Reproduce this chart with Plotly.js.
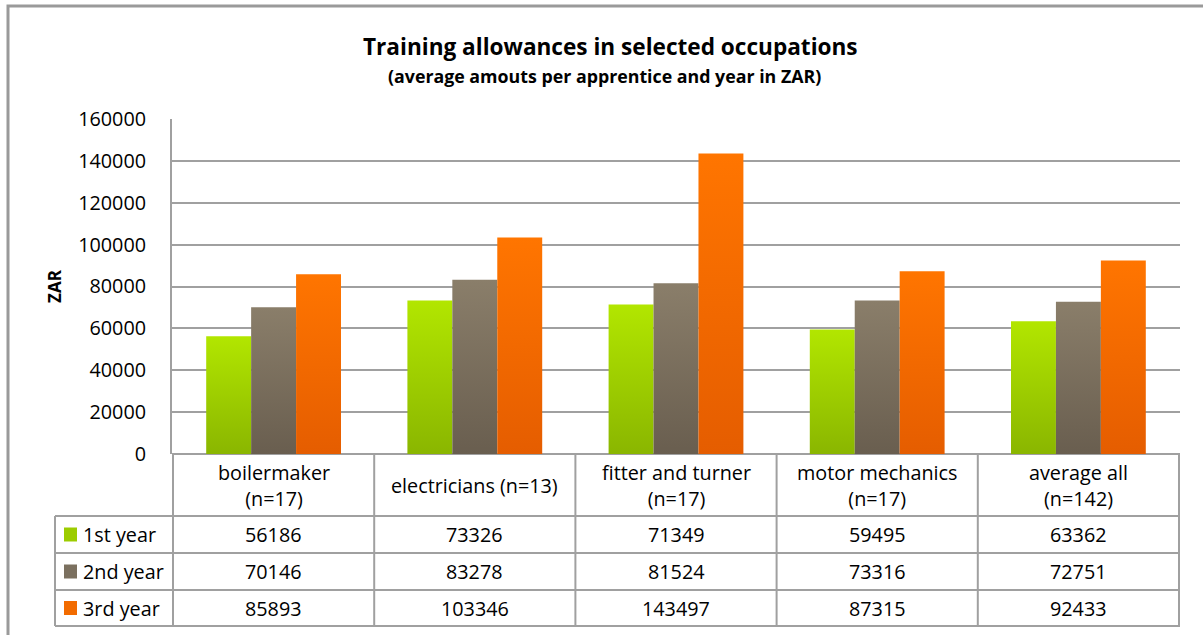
<!DOCTYPE html>
<html>
<head>
<meta charset="utf-8">
<script src="https://cdn.plot.ly/plotly-3.0.1.min.js"></script>
<style>
html,body{margin:0;padding:0;background:#fff;}
#chart{width:1203px;height:635px;}
</style>
</head>
<body>
<div id="chart"></div>
<script>
// ---- data ----
const categories = ['boilermaker<br>(n=17)', 'electricians (n=13)', 'fitter and turner<br>(n=17)', 'motor mechanics<br>(n=17)', 'average all<br>(n=142)'];
const seriesNames = ['1st year', '2nd year', '3rd year'];
const year1 = [56186, 73326, 71349, 59495, 63362];
const year2 = [70146, 83278, 81524, 73316, 72751];
const year3 = [85893, 103346, 143497, 87315, 92433];
const yTickVals = [0, 20000, 40000, 60000, 80000, 100000, 120000, 140000, 160000];

const seriesValues = [year1, year2, year3];
const colors = ['#9ccc00', '#7b705f', '#f26b00'];
const gradTop = ['#b2e600', '#8a7e6a', '#ff7500'];
const gradBottom = ['#8ab600', '#695e4f', '#e55d00'];

// ---- layout geometry (pixels) ----
const W = 1203, H = 635;
const plotL = 172, plotR = 1180, plotT = 119, plotB = 454;
const pw = plotR - plotL, ph = plotB - plotT;
const px = x => (x - plotL) / pw;      // pixel -> paper x
const py = y => (plotB - y) / ph;      // pixel -> paper y
const FONT = 'Open Sans, sans-serif';
const FS = 19.8;
const GRID = '#a0a0a0';

const traces = seriesValues.map((vals, k) => ({
  type: 'bar',
  name: seriesNames[k],
  x: categories,
  y: vals,
  marker: {color: colors[k], line: {width: 0}},
  hoverinfo: 'x+y+name'
}));

// table row boundaries (pixels)
const rowLines = [516, 553, 590, 626];
const headerMid = (plotB + rowLines[0]) / 2;

const shapes = [];
const annotations = [];

// outer chart border
shapes.push({type: 'rect', xref: 'paper', yref: 'paper', x0: px(8), x1: px(1215), y0: py(6), y1: py(645),
  line: {color: '#9a9a9a', width: 3}, fillcolor: 'rgba(0,0,0,0)', layer: 'below'});

// vertical table lines (category boundaries)
for (let i = 0; i <= categories.length; i++) {
  shapes.push({type: 'line', xref: 'x', yref: 'paper', x0: i - 0.5, x1: i - 0.5, y0: py(plotB), y1: py(rowLines[3]),
    line: {color: GRID, width: 2}});
}
// legend column left border
shapes.push({type: 'line', xref: 'paper', yref: 'paper', x0: px(55), x1: px(55), y0: py(rowLines[0]), y1: py(rowLines[3]),
  line: {color: GRID, width: 2}});
// horizontal table lines
rowLines.forEach(r => {
  shapes.push({type: 'line', xref: 'paper', yref: 'paper', x0: px(55), x1: px(plotR), y0: py(r), y1: py(r),
    line: {color: GRID, width: 2}});
});

// header cells
categories.forEach((c, i) => {
  annotations.push({xref: 'x', yref: 'paper', x: i, y: py(headerMid), text: c, showarrow: false,
    font: {family: FONT, size: FS, color: '#000'}, xanchor: 'center', yanchor: 'middle', align: 'center'});
});

// data rows
seriesValues.forEach((vals, k) => {
  const mid = (rowLines[k] + rowLines[k + 1]) / 2;
  // legend key
  shapes.push({type: 'rect', xref: 'paper', yref: 'paper', x0: px(64), x1: px(77), y0: py(mid - 7), y1: py(mid + 7),
    line: {width: 0}, fillcolor: colors[k]});
  annotations.push({xref: 'paper', yref: 'paper', x: px(81), y: py(mid), text: seriesNames[k], showarrow: false,
    font: {family: FONT, size: FS, color: '#000'}, xanchor: 'left', yanchor: 'middle'});
  vals.forEach((v, i) => {
    annotations.push({xref: 'x', yref: 'paper', x: i, y: py(mid), text: String(v), showarrow: false,
      font: {family: FONT, size: FS, color: '#000'}, xanchor: 'center', yanchor: 'middle'});
  });
});

// titles
annotations.push({xref: 'paper', yref: 'paper', x: px(610), y: py(46), text: '<b>Training allowances in selected occupations</b>',
  showarrow: false, font: {family: FONT, size: 22.6, color: '#000'}, xanchor: 'center', yanchor: 'middle'});
annotations.push({xref: 'paper', yref: 'paper', x: px(604), y: py(76), text: '<b>(average amouts per apprentice and year in ZAR)</b>',
  showarrow: false, font: {family: FONT, size: 17.8, color: '#000'}, xanchor: 'center', yanchor: 'middle'});

const layout = {
  width: W, height: H,
  margin: {l: plotL, r: W - plotR, t: plotT, b: H - plotB, pad: 0},
  paper_bgcolor: '#fff', plot_bgcolor: '#fff',
  showlegend: false,
  barmode: 'group', bargap: 0.33, bargroupgap: 0,
  xaxis: {type: 'category', showticklabels: false, showgrid: false, zeroline: false,
    showline: false, ticks: '', fixedrange: true},
  yaxis: {range: [0, 160000], tickvals: yTickVals, ticktext: yTickVals.map(String),
    showgrid: true, gridcolor: GRID, gridwidth: 2, zeroline: true, zerolinecolor: GRID, zerolinewidth: 2,
    showline: true, linecolor: GRID, linewidth: 2, ticks: '', ticklabelstandoff: 20,
    tickfont: {family: FONT, size: FS, color: '#000'},
    title: {text: '<b>ZAR</b>', font: {family: FONT, size: 17, color: '#000'}, standoff: 12}},
  shapes: shapes,
  annotations: annotations
};

const gd = document.getElementById('chart');

function applyGradients() {
  const svg = gd.querySelector('svg.main-svg');
  if (!svg) return;
  const NS = 'http://www.w3.org/2000/svg';
  let defs = svg.querySelector('defs');
  if (!defs) { defs = document.createElementNS(NS, 'defs'); svg.insertBefore(defs, svg.firstChild); }
  seriesValues.forEach((_, k) => {
    const id = 'bargrad' + k;
    if (!svg.querySelector('#' + id)) {
      const g = document.createElementNS(NS, 'linearGradient');
      g.setAttribute('id', id);
      g.setAttribute('x1', '0'); g.setAttribute('y1', '0');
      g.setAttribute('x2', '0'); g.setAttribute('y2', '1');
      [[0, gradTop[k]], [1, gradBottom[k]]].forEach(([o, c]) => {
        const s = document.createElementNS(NS, 'stop');
        s.setAttribute('offset', o); s.setAttribute('stop-color', c);
        g.appendChild(s);
      });
      defs.appendChild(g);
    }
  });
  const barTraces = gd.querySelectorAll('.barlayer .trace');
  barTraces.forEach((t, k) => {
    t.querySelectorAll('.point path').forEach(p => { p.style.fill = 'url(#bargrad' + k + ')'; });
  });
}

Plotly.newPlot(gd, traces, layout, {displayModeBar: false, staticPlot: true}).then(applyGradients);
</script>
</body>
</html>
